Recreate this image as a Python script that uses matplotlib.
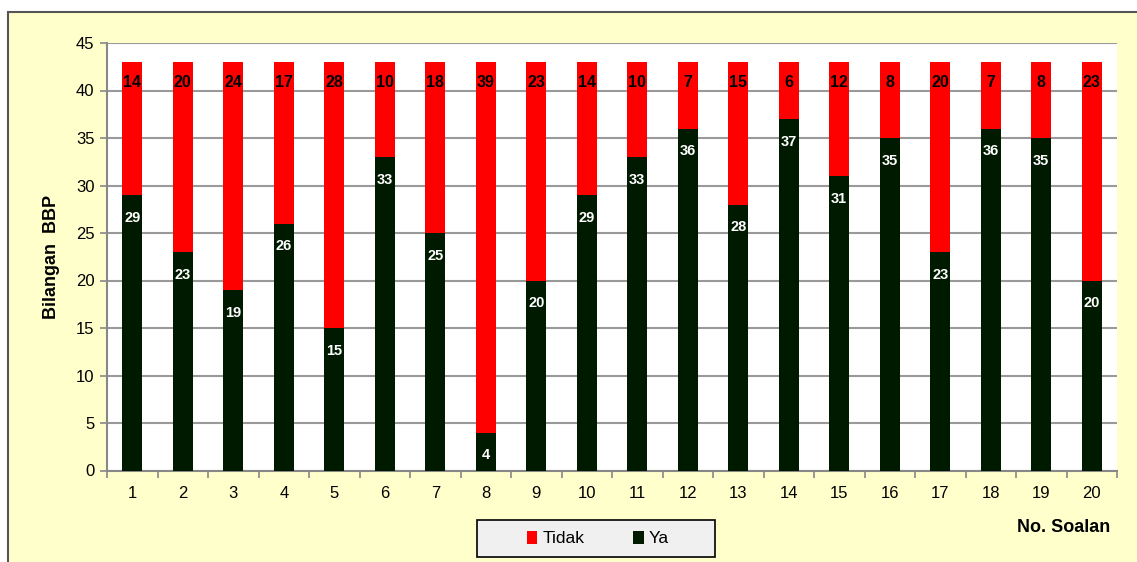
import numpy as np
import matplotlib
matplotlib.use("Agg")
import matplotlib.pyplot as plt
from matplotlib.patches import Rectangle

plt.rcParams['font.family'] = ['Liberation Sans', 'DejaVu Sans']

# question numbers and counts
soalan = list(range(1, 21))
ya = [29, 23, 19, 26, 15, 33, 25, 4, 20, 29, 33, 36, 28, 37, 31, 35, 23, 36, 35, 20]
tidak = [14, 20, 24, 17, 28, 10, 18, 39, 23, 14, 10, 7, 15, 6, 12, 8, 20, 7, 8, 23]

RED = '#FF0000'
GREEN = '#001A00'

fig = plt.figure(figsize=(11.37, 5.62), dpi=100)
fig.patch.set_facecolor('white')

# pale yellow chart area with border
fig.patches.append(Rectangle((8 / 1137, -0.05), 1.1, 1 - 12 / 562 + 0.05,
                             transform=fig.transFigure, facecolor='#FFFFCC',
                             edgecolor='#555555', linewidth=1.5, zorder=-5))
# legend frame
fig.patches.append(Rectangle((477 / 1137, 1 - 557 / 562), 238 / 1137, 37 / 562,
                             transform=fig.transFigure, facecolor='#F0F0F0',
                             edgecolor='black', linewidth=1.2, zorder=-4))

ax = fig.add_axes([107 / 1137, 1 - 470.5 / 562, (1117 - 107) / 1137, (470.5 - 43) / 562])
ax.set_facecolor('white')

x = np.array(soalan)
ax.bar(x, ya, width=0.4, color=GREEN, zorder=3, label='Ya')
ax.bar(x, tidak, width=0.4, bottom=ya, color=RED, zorder=3, label='Tidak')

for xi, y1, t1 in zip(x, ya, tidak):
    ax.text(xi, y1 - 2.4, str(y1), ha='center', va='center', color='white',
            fontsize=10.5, fontweight='bold', zorder=4)
    ax.text(xi, y1 + t1 - 2.2, str(t1), ha='center', va='center', color='black',
            fontsize=11.5, fontweight='bold', zorder=4)

ax.set_xlim(0.5, 20.5)
ax.set_ylim(0, 45)
ax.set_yticks(range(0, 46, 5))
ax.set_xticks(x)
ax.set_xticks(np.arange(0.5, 21, 1), minor=True)
ax.tick_params(axis='x', which='major', length=0, pad=11, labelsize=12)
ax.tick_params(axis='x', which='minor', length=5, direction='out', color='#888888', width=1.2)
ax.tick_params(axis='y', length=5, direction='out', color='#888888', width=1.2, labelsize=12, pad=4)

ax.grid(axis='y', color='#999999', linewidth=1.5, zorder=1)
for s in ['top', 'right']:
    ax.spines[s].set_visible(False)
for s in ['left', 'bottom']:
    ax.spines[s].set_color('#888888')
    ax.spines[s].set_linewidth(1.5)

fig.text(52 / 1137, 1 - 257 / 562, 'Bilangan  BBP', rotation=90, ha='center', va='center',
         fontsize=13, fontweight='bold')
fig.text(1064 / 1137, 1 - 528 / 562, 'No. Soalan', ha='center', va='center',
         fontsize=13, fontweight='bold')

handles, labels = ax.get_legend_handles_labels()
leg = fig.legend(handles[::-1], labels[::-1], loc='center',
                 bbox_to_anchor=(598 / 1137, 1 - 538.5 / 562), ncol=2,
                 frameon=False, fontsize=12.5, handlelength=0.6, handleheight=0.8,
                 handletextpad=0.3, columnspacing=2.8, borderaxespad=0)

fig.savefig('out.png', dpi=100)
